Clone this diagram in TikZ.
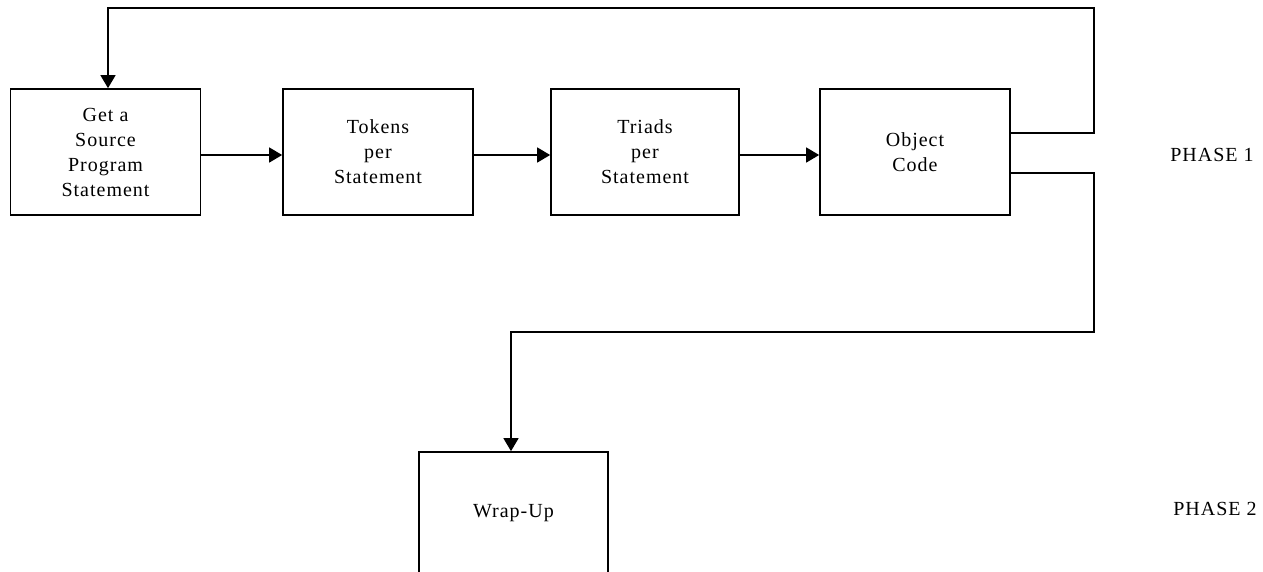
\documentclass[tikz,border=0pt]{standalone}
\usepackage{fontspec}
\setmainfont{Liberation Serif}[LetterSpace=5]
\usetikzlibrary{arrows.meta}
\begin{document}
\begin{tikzpicture}[x=1pt,y=-1pt,
  stagebox/.style={draw,line width=1.7pt,rectangle,inner sep=0pt,
    minimum width=190pt,minimum height=126pt,align=center,
    font=\fontsize{20}{25}\selectfont},
  flow/.style={line width=1.5pt,-{Triangle[length=13pt,width=15pt]}},
  phaselabel/.style={font=\fontsize{20}{24}\selectfont,anchor=center}]
  \clip (0,0) rectangle (1263,571);
  % compiler stages of phase 1
  \node[stagebox] (get) at (105.5,152) {Get a\\Source\\Program\\Statement};
  \node[stagebox] (tok) at (378,152) {Tokens\\per\\Statement};
  \node[stagebox,minimum width=188pt] (tri) at (645,152) {Triads\\per\\Statement};
  \node[stagebox] (obj) at (915,152) {Object\\Code};
  % phase 2, box runs off the lower edge
  \node[stagebox,minimum width=189pt,minimum height=122pt] (wrap) at (513.5,513) {Wrap-Up};
  % phase labels
  \node[phaselabel] (p1) at (1212,155) {PHASE 1};
  \node[phaselabel] (p2) at (1215,509) {PHASE 2};
  % forward flow
  \draw[flow] ([yshift=-3pt]get.east) -- ([yshift=-3pt]tok.west);
  \draw[flow] ([yshift=-3pt]tok.east) -- ([yshift=-3pt]tri.west);
  \draw[flow] ([yshift=-3pt]tri.east) -- ([yshift=-3pt]obj.west);
  % loop back for the next statement
  \coordinate (loopTop) at (1094,8);
  \draw[flow] ([yshift=19pt]obj.east) -| (loopTop) -| ([xshift=2.5pt]get.north);
  % exit to wrap-up
  \coordinate (exitMid) at (1094,332);
  \draw[flow] ([yshift=-21pt]obj.east) -| (exitMid) -| ([xshift=-2.5pt]wrap.north);
\end{tikzpicture}
\end{document}
